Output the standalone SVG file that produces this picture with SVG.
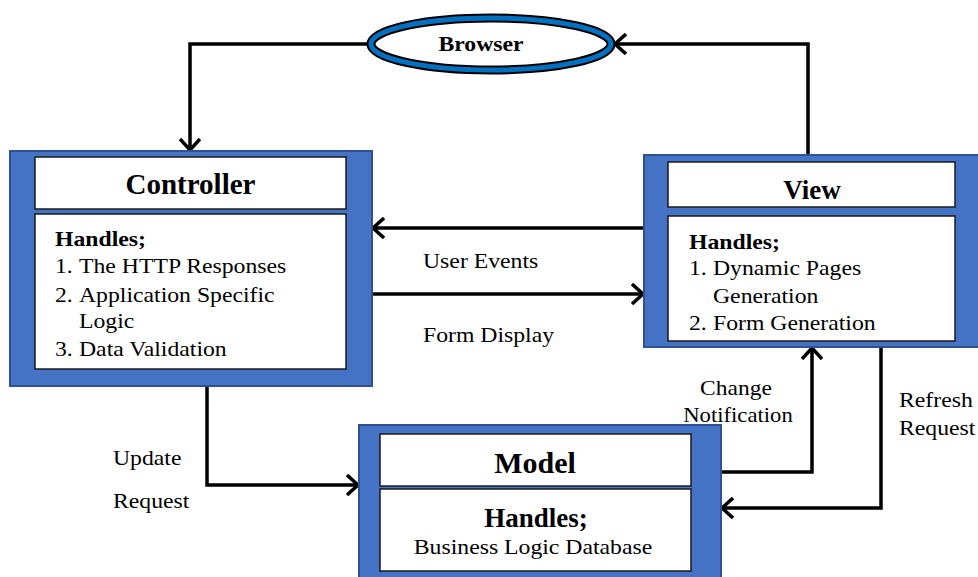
<svg xmlns="http://www.w3.org/2000/svg" width="978" height="577" viewBox="0 0 978 577" font-family="Liberation Serif, Times New Roman, serif" font-size="21">
<defs>
<marker id="arr" viewBox="0 0 14 22" refX="12" refY="11" markerWidth="14" markerHeight="22" markerUnits="userSpaceOnUse" orient="auto">
<polyline points="1,1 12,11 1,21" fill="none" stroke="#000" stroke-width="3.5"/>
</marker>
<style>
.outer{fill:#4472C4;stroke:#2F528F;stroke-width:2}
.inner{fill:#fff;stroke:#1a1a1a;stroke-width:1.5}
.b{font-weight:bold}
.m{text-anchor:middle}
.conn{fill:none;stroke:#000;stroke-width:3.5;marker-end:url(#arr)}
</style>
</defs>
<rect width="978" height="577" fill="#fff"/>

<g id="connectors">
<polyline class="conn" points="370,44 190,44 190,150"/>
<polyline class="conn" points="808,155 808,44 615,44"/>
<polyline class="conn" points="644,228 373,228"/>
<polyline class="conn" points="372,294 643,294"/>
<polyline class="conn" points="207,386 207,485 358,485"/>
<polyline class="conn" points="721,472 812,472 812,348"/>
<polyline class="conn" points="881,347 881,508 722,508"/>
<text transform="matrix(1.13,0,0,1,423,268)">User Events</text>
<text transform="matrix(1.13,0,0,1,423,342)">Form Display</text>
<text transform="matrix(1.13,0,0,1,113,465)">Update</text>
<text transform="matrix(1.13,0,0,1,113,508)">Request</text>
<text class="m" transform="matrix(1.12,0,0,1,736,395)">Change</text>
<text class="m" transform="matrix(1.08,0,0,1,738,422)">Notification</text>
<text transform="matrix(1.13,0,0,1,899,407)">Refresh</text>
<text transform="matrix(1.13,0,0,1,899,435)">Request</text>
</g>

<g id="browser">
<ellipse cx="491" cy="44" rx="120" ry="26" fill="#fff" stroke="#000" stroke-width="9"/>
<ellipse cx="491" cy="44" rx="120" ry="26" fill="none" stroke="#0070C0" stroke-width="5"/>
<text class="b m" transform="matrix(1.13,0,0,1,481,51)">Browser</text>
</g>

<g id="controller">
<rect class="outer" x="10" y="151" width="362" height="235"/>
<rect class="inner" x="35" y="157" width="311" height="52"/>
<rect class="inner" x="35" y="214" width="311" height="155"/>
<text class="b m" x="190.5" y="194" font-size="29">Controller</text>
<text class="b" transform="matrix(1.13,0,0,1,55,246)">Handles;</text>
<text transform="matrix(1.13,0,0,1,55,273)">1.</text>
<text transform="matrix(1.13,0,0,1,79,273)">The HTTP Responses</text>
<text transform="matrix(1.13,0,0,1,55,302)">2.</text>
<text transform="matrix(1.13,0,0,1,79,302)">Application Specific</text>
<text transform="matrix(1.13,0,0,1,79,328)">Logic</text>
<text transform="matrix(1.13,0,0,1,55,356)">3.</text>
<text transform="matrix(1.13,0,0,1,79,356)">Data Validation</text>
</g>

<g id="view">
<rect class="outer" x="644" y="155" width="340" height="192"/>
<rect class="inner" x="668" y="162" width="287" height="45"/>
<rect class="inner" x="668" y="216" width="287" height="125"/>
<text class="b m" x="812" y="199" font-size="27">View</text>
<text class="b" transform="matrix(1.13,0,0,1,689,249)">Handles;</text>
<text transform="matrix(1.13,0,0,1,689,275)">1.</text>
<text transform="matrix(1.13,0,0,1,713,275)">Dynamic Pages</text>
<text transform="matrix(1.13,0,0,1,713,303)">Generation</text>
<text transform="matrix(1.13,0,0,1,689,330)">2.</text>
<text transform="matrix(1.13,0,0,1,713,330)">Form Generation</text>
</g>

<g id="model">
<rect class="outer" x="359" y="425" width="362" height="160"/>
<rect class="inner" x="380" y="434" width="311" height="52"/>
<rect class="inner" x="380" y="489" width="311" height="82"/>
<text class="b m" x="535" y="473" font-size="30">Model</text>
<text class="b m" x="536" y="527" font-size="27">Handles;</text>
<text class="m" transform="matrix(1.13,0,0,1,533,554)">Business Logic Database</text>
</g>
</svg>
